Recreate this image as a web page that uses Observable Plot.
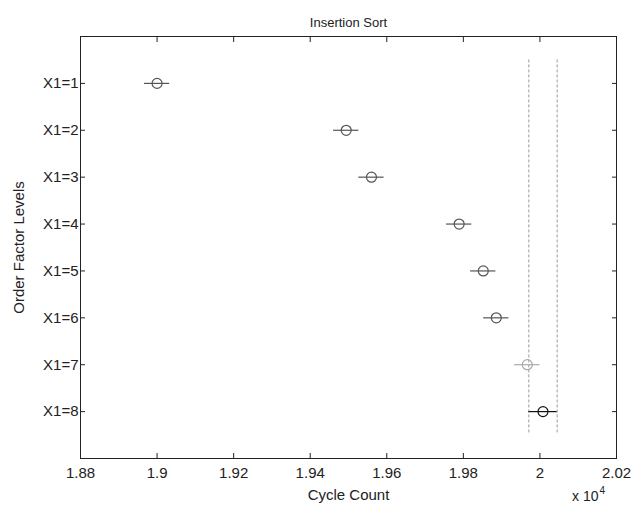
<!DOCTYPE html>
<html><head><meta charset="utf-8">
<script src="https://cdn.jsdelivr.net/npm/d3@7"></script>
<script src="https://cdn.jsdelivr.net/npm/@observablehq/plot@0.6"></script>
<style>body{margin:0;background:#fff}</style>
</head><body><div id="chart"></div>
<script>
const title = "Insertion Sort";
const xLabel = "Cycle Count";
const yLabel = "Order Factor Levels";
const exponentBase = "x 10";
const exponent = "4";
const categories = ["X1=1", "X1=2", "X1=3", "X1=4", "X1=5", "X1=6", "X1=7", "X1=8"];
const levels = [1, 2, 3, 4, 5, 6, 7, 8];
const means = [19000, 19494, 19560, 19789, 19852, 19886, 19967, 20008];
const halfWidths = [33, 33, 33, 33, 33, 33, 33, 37];
const groups = ["different", "different", "different", "different", "different", "different", "similar", "selected"];
const xTicks = [18800, 19000, 19200, 19400, 19600, 19800, 20000, 20200];

const data = categories.map((c, i) => ({
  cat: c, level: levels[i], mean: means[i],
  lo: means[i] - halfWidths[i], hi: means[i] + halfWidths[i], group: groups[i]
}));
const sel = data[data.length - 1];
const fmt = d => String(+(d / 1e4).toFixed(2));
const none = () => "";

const chart = Plot.plot({
  width: 643, height: 507,
  marginTop: 36, marginBottom: 49, marginLeft: 80, marginRight: 27,
  style: {fontFamily: "'Liberation Sans', Arial, sans-serif", fontSize: "15px", background: "#fff", color: "#222"},
  x: {domain: [18800, 20200]},
  y: {domain: [9, 0]},
  color: {domain: ["different", "similar", "selected"], range: ["#555", "#aaa", "#111"]},
  marks: [
    Plot.ruleX([sel.lo, sel.hi], {y1: 0.5, y2: 8.5, stroke: "#999", strokeDasharray: "3,2"}),
    Plot.ruleY(data, {y: "level", x1: "lo", x2: "hi", stroke: "group", strokeWidth: 1.2}),
    Plot.dot(data, {x: "mean", y: "level", r: 5, stroke: "group", fill: "none", strokeWidth: 1.2}),
    Plot.frame({stroke: "#222"}),
    Plot.axisX({anchor: "bottom", ticks: xTicks, tickFormat: fmt, tickSize: -5, tickPadding: 14, label: xLabel, labelAnchor: "center", labelArrow: "none", labelOffset: 41, fontSize: 15}),
    Plot.axisX({anchor: "top", ticks: xTicks, tickFormat: none, tickSize: -5, label: null}),
    Plot.axisY({anchor: "left", ticks: levels, tickFormat: i => categories[i - 1], tickSize: -5, tickPadding: 7, label: yLabel, labelAnchor: "center", labelArrow: "none", labelOffset: 67, fontSize: 15}),
    Plot.axisY({anchor: "right", ticks: levels, tickFormat: none, tickSize: -5, label: null}),
    Plot.text([title], {frameAnchor: "top", dy: -19, fontSize: 13, fill: "#222"}),
    Plot.text([exponentBase], {frameAnchor: "bottom-right", dx: -18, dy: 42, textAnchor: "end", fontSize: 14, fill: "#222"}),
    Plot.text([exponent], {frameAnchor: "bottom-right", dx: -17, dy: 35, textAnchor: "start", fontSize: 10, fill: "#222"})
  ]
});
document.getElementById("chart").appendChild(chart);
</script>
</body></html>
